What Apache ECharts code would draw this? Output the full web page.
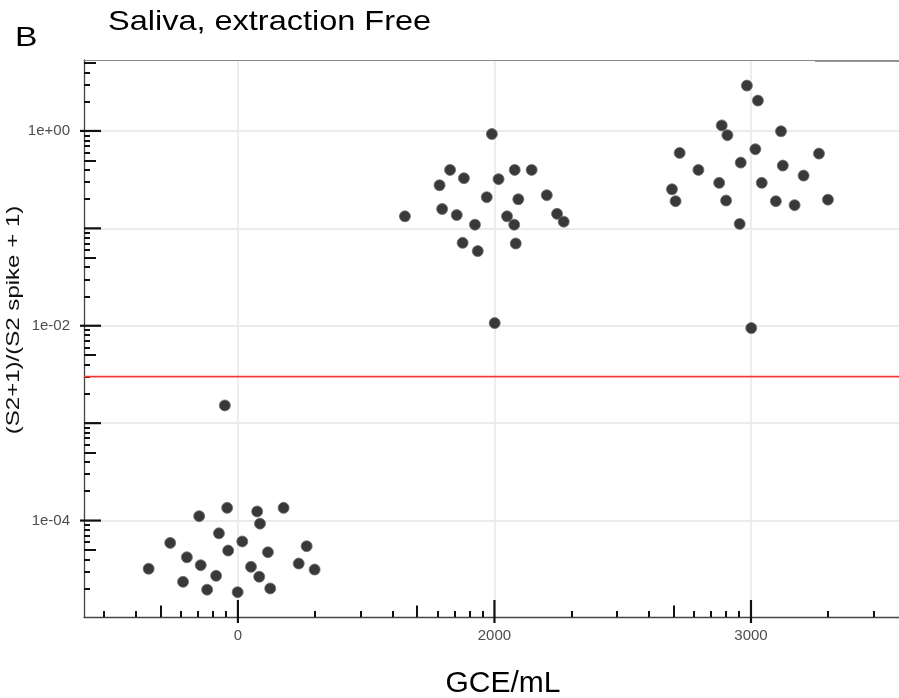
<!DOCTYPE html>
<html><head><meta charset="utf-8">
<script src="https://cdn.jsdelivr.net/npm/echarts@6/dist/echarts.min.js"></script>
<style>html,body{margin:0;padding:0;background:#fff}#chart{width:899px;height:698px}</style>
</head><body><div id="chart"></div>
<script>
// ---- data ----
const categories = ['0', '2000', '3000'];
const cat0Jitter = [-0.051,-0.042,-0.151,0.075,0.178,0.086,-0.074,-0.264,0.017,0.268,-0.038,0.117,-0.199,-0.145,0.051,0.237,-0.348,0.299,-0.085,0.083,-0.214,-0.120,-0.001,0.126];
const cat0Values = [1.52e-3,1.35e-4,1.11e-4,1.24e-4,1.35e-4,9.3e-5,7.4e-5,5.9e-5,6.1e-5,5.45e-5,4.92e-5,4.73e-5,4.2e-5,3.48e-5,3.35e-5,3.62e-5,3.2e-5,3.14e-5,2.71e-5,2.65e-5,2.35e-5,1.95e-5,1.84e-5,2.01e-5];
const cat1Jitter = [-0.010,-0.173,-0.119,-0.214,0.016,0.079,0.145,-0.030,0.093,0.204,-0.204,-0.147,-0.349,0.049,0.244,0.270,-0.076,0.077,-0.124,-0.065,0.083,0.001];
const cat1Values = [0.93,0.398,0.327,0.277,0.32,0.398,0.398,0.209,0.199,0.219,0.158,0.137,0.133,0.133,0.141,0.117,0.109,0.109,0.071,0.0584,0.0699,0.01066];
const cat2Jitter = [-0.016,0.027,-0.114,-0.092,0.117,-0.278,0.017,0.265,-0.205,-0.040,0.124,0.205,-0.124,0.042,-0.308,-0.294,-0.097,0.097,0.170,0.300,-0.044,0.001];
const cat2Values = [2.92,2.05,1.14,0.904,0.993,0.595,0.649,0.585,0.398,0.473,0.441,0.348,0.293,0.293,0.252,0.190,0.193,0.190,0.173,0.197,0.111,0.00947];
const threshold = 0.003;

// ---- axis ticks / labels ----
const yLabelValues = [1, 0.01, 0.0001];
const yLabelTexts = ['1e+00', '1e-02', '1e-04'];
const yDecadeTicks = [1, 0.1, 0.01, 0.001, 0.0001];
const yMidTicks = [5, 0.5, 0.05, 0.005, 0.0005, 0.00005];
const minorMultipliers = [2, 3, 4, 6, 7, 8, 9];
const yExponents = [-5, -4, -3, -2, -1, 0];
const xDecadeSlots = [-1, 0, 1, 2];
const xLabelPositions = [0, 1, 2];

const xMin = -0.6, xMax = 2.577;
const yMin = 1.023e-5, yMax = 5.35;

const ySmallTicks = [];
yExponents.forEach(k => minorMultipliers.forEach(m => ySmallTicks.push(m * Math.pow(10, k))));
const xMidTicks = xDecadeSlots.map(i => i + Math.log10(5)).filter(v => v >= xMin && v <= xMax);
const xSmallTicks = [];
xDecadeSlots.forEach(i => minorMultipliers.forEach(m => {
  const v = i + Math.log10(m);
  if (v >= xMin && v <= xMax) xSmallTicks.push(v);
}));

const FONT = "'Liberation Sans', Arial, Helvetica, sans-serif";
const TICK_COLOR = '#111';
const tickStyle = { color: TICK_COLOR, width: 2 };
const gridStyle = { color: '#ebebeb', width: 1.8 };

function xAx(extra) {
  return Object.assign({
    type: 'value', gridIndex: 0, min: xMin, max: xMax, position: 'bottom', z: 1,
    axisLine: { show: false, onZero: false },
    axisLabel: { show: false }, splitLine: { show: false }, axisTick: { show: false }
  }, extra);
}
function yAx(extra) {
  return Object.assign({
    type: 'log', logBase: 10, gridIndex: 0, min: yMin, max: yMax, position: 'left', z: 1,
    axisLine: { show: false, onZero: false },
    axisLabel: { show: false }, splitLine: { show: false }, axisTick: { show: false }
  }, extra);
}

function build(jit, vals, idx) {
  return vals.map((v, i) => [idx + jit[i], v]);
}
const points = [].concat(build(cat0Jitter, cat0Values, 0), build(cat1Jitter, cat1Values, 1), build(cat2Jitter, cat2Values, 2));

const isLabeledY = v => yLabelValues.some(p => Math.abs(Math.log10(p) - Math.log10(v)) < 1e-6);
const isLabeledX = v => xLabelPositions.some(p => Math.abs(p - v) < 1e-6);

const chart = echarts.init(document.getElementById('chart'));
chart.setOption({
  animation: false,
  grid: { left: 84, right: 0, top: 60, bottom: 81, containLabel: false },
  xAxis: [
    xAx({
      axisLine: { show: true, onZero: false, lineStyle: { color: '#444', width: 1.3 } },
      axisLabel: { show: true, customValues: xLabelPositions, margin: 11, color: '#4d4d4d', fontSize: 15, fontFamily: FONT,
        formatter: v => { const i = xLabelPositions.findIndex(p => Math.abs(p - v) < 1e-6); return i >= 0 ? categories[i] : ''; } }
    }),
    xAx({ axisTick: { show: true, inside: true, length: 11.5, customValues: xMidTicks, lineStyle: tickStyle } }),
    xAx({ axisTick: { show: true, inside: true, length: 6, customValues: xSmallTicks, lineStyle: tickStyle } }),
    xAx({ position: 'top', axisLine: { show: true, onZero: false, lineStyle: { color: '#8a8a8a', width: 1 } } }),
    xAx({ z: 0, axisTick: { show: false, customValues: xLabelPositions }, splitLine: { show: true, lineStyle: gridStyle } })
  ],
  yAxis: [
    yAx({
      axisLine: { show: true, onZero: false, lineStyle: { color: '#444', width: 1.3 } },
      axisLabel: { show: true, customValues: yLabelValues, margin: 14, color: '#4d4d4d', fontSize: 15, fontFamily: FONT,
        formatter: v => { const i = yLabelValues.findIndex(p => Math.abs(Math.log10(p) - Math.log10(v)) < 1e-6); return i >= 0 ? yLabelTexts[i] : ''; } }
    }),
    yAx({ axisTick: { show: true, inside: true, length: 12, customValues: yMidTicks, lineStyle: tickStyle } }),
    yAx({ axisTick: { show: true, inside: true, length: 6, customValues: ySmallTicks, lineStyle: tickStyle } }),
    yAx({ z: 0, axisTick: { show: false, customValues: yDecadeTicks }, splitLine: { show: true, lineStyle: gridStyle } })
  ],
  series: [
    {
      type: 'line', xAxisIndex: 0, yAxisIndex: 0,
      data: [[xMin, threshold], [xMax, threshold]],
      showSymbol: false, symbol: 'none', silent: true,
      lineStyle: { color: '#f23a3a', width: 1.7, type: 'solid' },
      z: 3
    },
    {
      // long decade ticks on the y axis (inside 17px, plus 4px outside where labelled)
      type: 'custom', xAxisIndex: 0, yAxisIndex: 0, clip: false, silent: true, z: 4,
      data: yDecadeTicks.map(v => [xMin, v]),
      renderItem: (params, api) => {
        const v = api.value(1);
        const p = api.coord([api.value(0), v]);
        const out = isLabeledY(v) ? 4 : 0;
        return { type: 'line', shape: { x1: p[0] - out, y1: p[1], x2: p[0] + 17, y2: p[1] }, style: { stroke: TICK_COLOR, lineWidth: 2.2 } };
      }
    },
    {
      // long decade ticks on the x axis (inside 17px, plus 6px outside where labelled)
      type: 'custom', xAxisIndex: 0, yAxisIndex: 0, clip: false, silent: true, z: 4,
      data: xLabelPositions.map(v => [v, yMin]),
      renderItem: (params, api) => {
        const v = api.value(0);
        const p = api.coord([v, api.value(1)]);
        const out = isLabeledX(v) ? 6 : 0;
        return { type: 'line', shape: { x1: p[0], y1: p[1] + out, x2: p[0], y2: p[1] - 17 }, style: { stroke: TICK_COLOR, lineWidth: 2.2 } };
      }
    },
    {
      type: 'scatter', xAxisIndex: 0, yAxisIndex: 0,
      data: points, symbolSize: 11,
      itemStyle: { color: '#393939', borderColor: '#6e6e6e', borderWidth: 0.8, opacity: 1 },
      z: 5
    }
  ],
  graphic: [
    { type: 'text', x: 15, y: 38, scaleX: 1.2, style: { text: 'B', font: '28px ' + FONT, fill: '#000', align: 'left', verticalAlign: 'middle' } },
    { type: 'text', x: 108, y: 22, scaleX: 1.16, style: { text: 'Saliva, extraction Free', font: '28px ' + FONT, fill: '#000', align: 'left', verticalAlign: 'middle' } },
    { type: 'text', x: 503, y: 684, style: { text: 'GCE/mL', font: '30px ' + FONT, fill: '#000', align: 'center', verticalAlign: 'middle' } },
    { type: 'text', x: 13.5, y: 320, rotation: Math.PI / 2, scaleX: 1.3, style: { text: '(S2+1)/(S2 spike + 1)', font: '18.5px ' + FONT, fill: '#111', align: 'center', verticalAlign: 'middle' } },
    { type: 'line', shape: { x1: 815, y1: 61, x2: 899, y2: 61 }, style: { stroke: '#9a9a9a', lineWidth: 2 } }
  ]
});
</script>
</body></html>
